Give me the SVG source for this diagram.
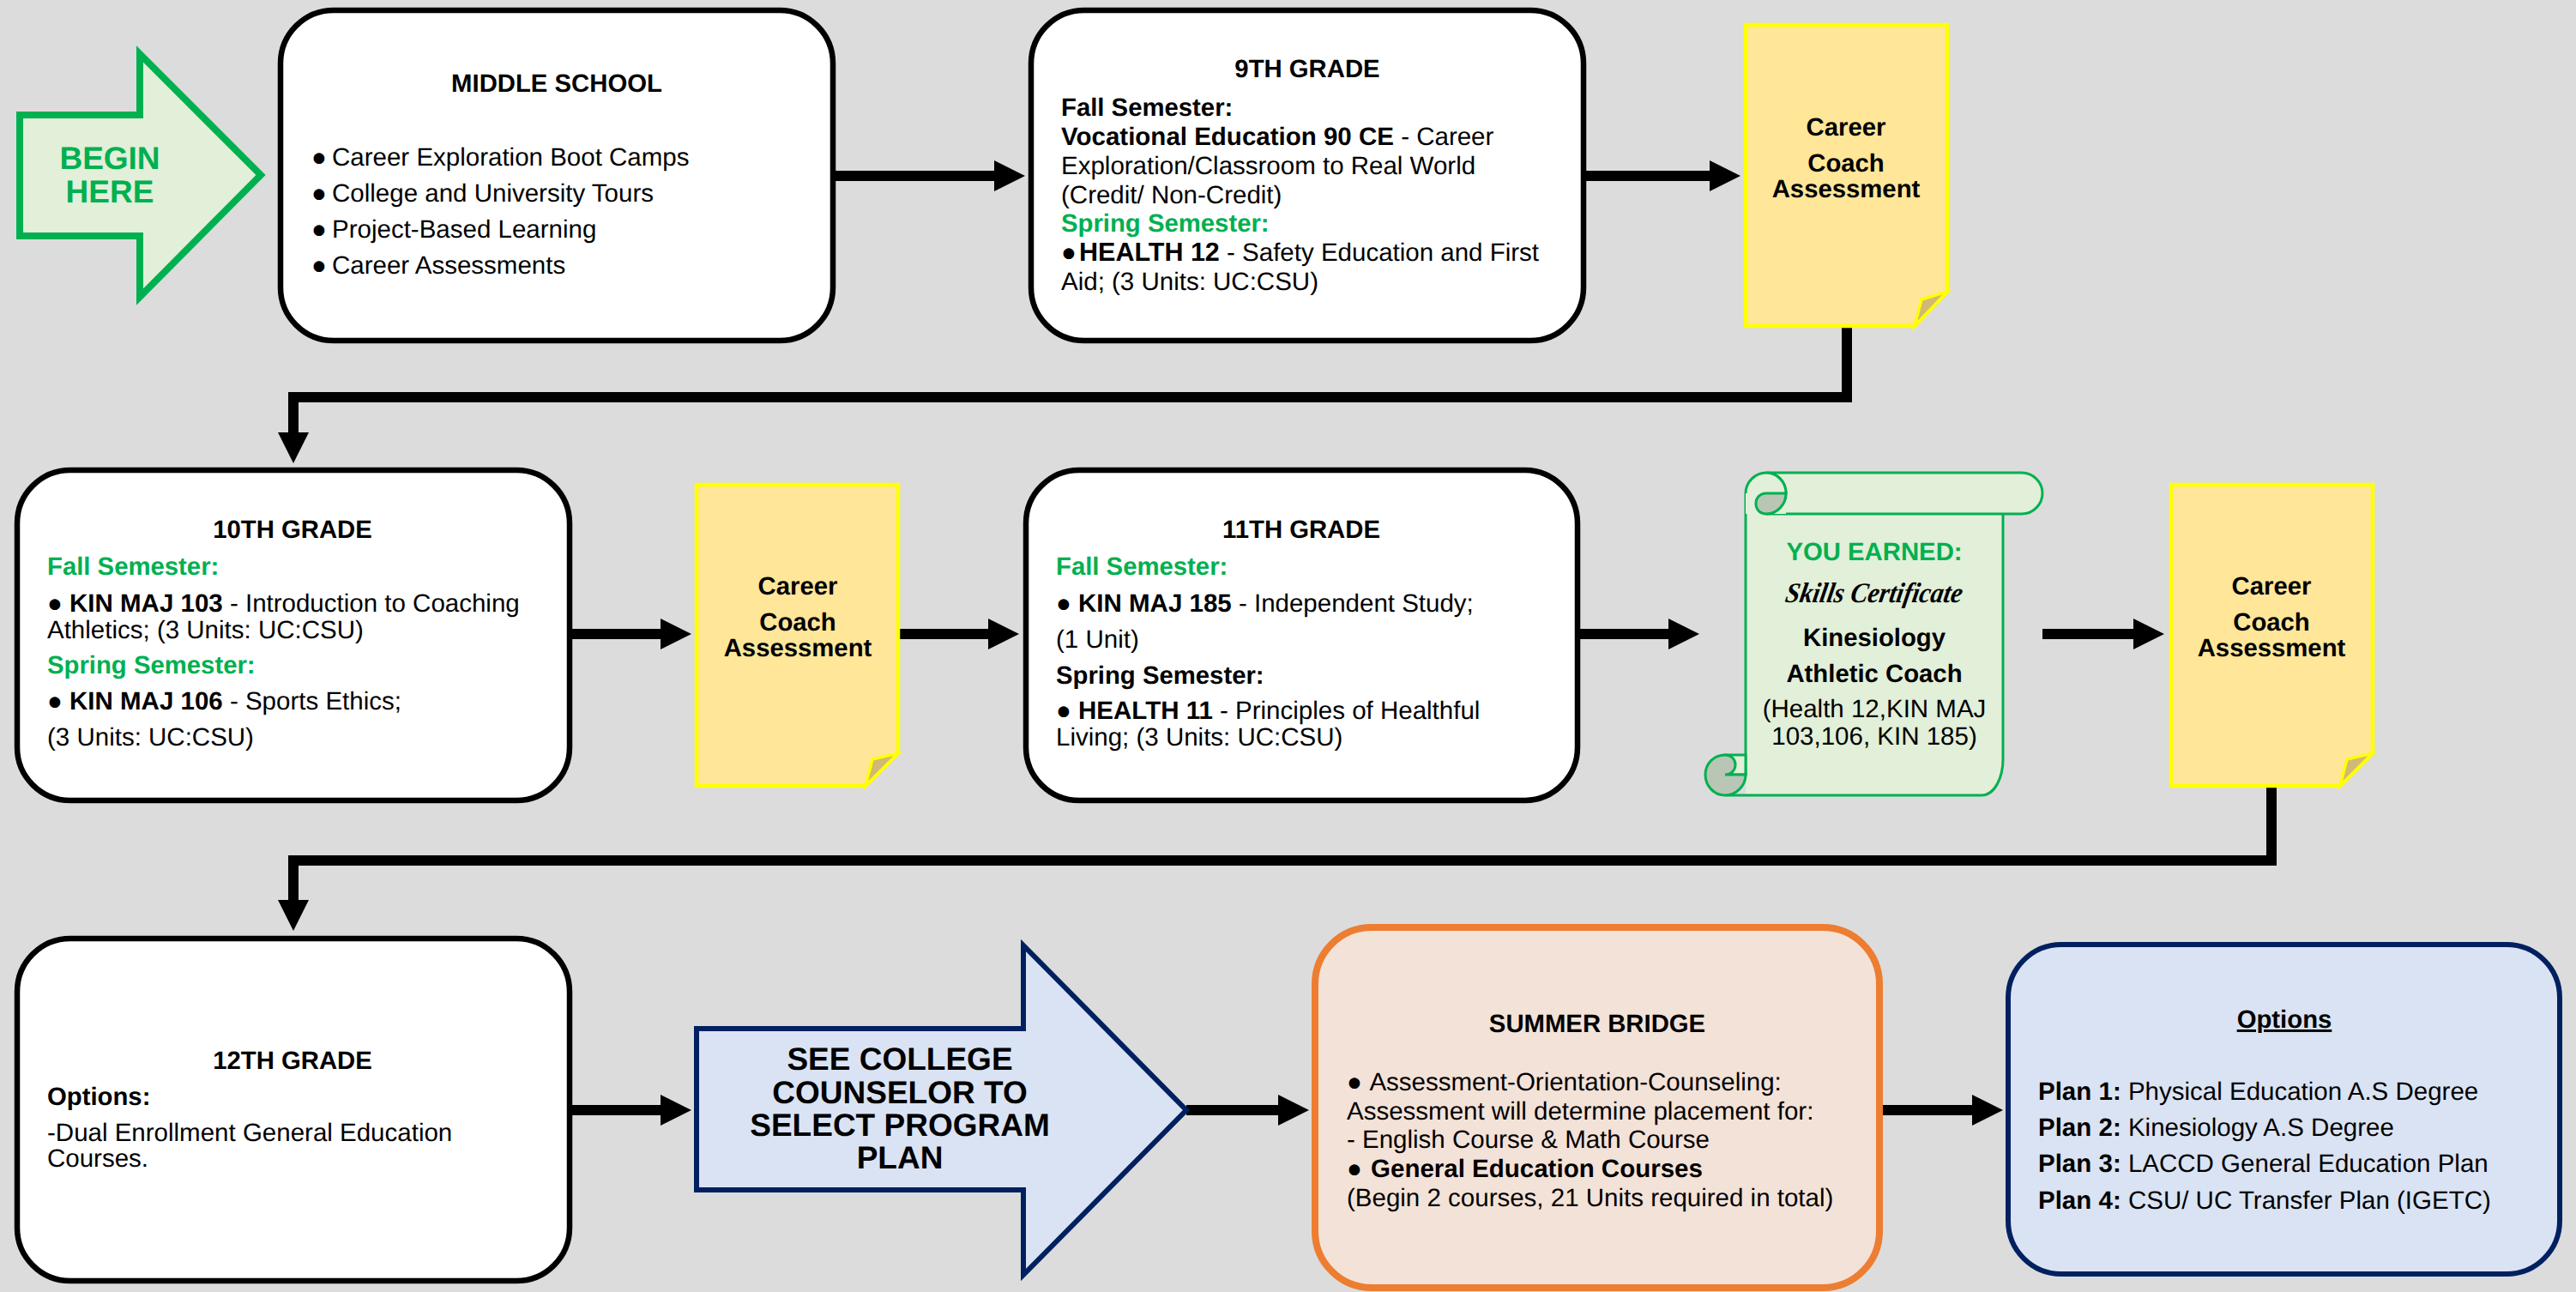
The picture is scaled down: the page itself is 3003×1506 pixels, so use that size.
<svg xmlns="http://www.w3.org/2000/svg" width="3003" height="1506" viewBox="0 0 3003 1506">
<style>
text{font-family:"Liberation Sans",Arial,sans-serif;font-size:29.5px;fill:#000;text-rendering:geometricPrecision}
.b,tspan.b{font-weight:700}
text.b{font-size:29.3px}
.c{text-anchor:middle}
.g,tspan.g{fill:#00B050}
.box{fill:#fff;stroke:#000;stroke-width:6.5}
.note{fill:#FFE699;stroke:#FFFF00;stroke-width:4.5}
.fold{fill:#CFB974;stroke:#FFFF00;stroke-width:3.5;stroke-linejoin:miter}
text.big{font-size:37px;font-weight:700}
.con{fill:none;stroke:#000;stroke-width:12;marker-end:url(#ah)}
.sc{fill:#E2EFD9;stroke:#00B050;stroke-width:3}
.scf{fill:#E2EFD9}
.scl{fill:none;stroke:#00B050;stroke-width:3}
.scd{fill:#B9C6B6;stroke:#00B050;stroke-width:3}
</style>
<defs>
<marker id="ah" markerUnits="userSpaceOnUse" markerWidth="38" markerHeight="38" refX="1" refY="19" orient="auto"><path d="M0 1L36 19L0 37Z" fill="#000"/></marker>
</defs>
<rect width="3003" height="1506" fill="#DCDCDC"/>
<g id="connectors">
<path class="con" d="M972 205H1160"/>
<path class="con" d="M1848 205H1994"/>
<path class="con" d="M2153 382V463H342V505"/>
<path class="con" d="M664 739H771"/>
<path class="con" d="M1047 739H1153"/>
<path class="con" d="M1840 739H1946"/>
<path class="con" d="M2381 739H2488"/>
<path class="con" d="M2648 917V1003H342V1050"/>
<path class="con" d="M664 1294H771"/>
<path class="con" d="M1383 1294H1491"/>
<path class="con" d="M2195 1294H2300"/>
</g>
<g id="begin">
<path d="M23 134H163V63L304 204L163 346V275H23Z" fill="#E2EFD9" stroke="#00B050" stroke-width="8"/>
<text class="big c g" x="128" y="197">BEGIN</text>
<text class="big c g" x="128" y="236">HERE</text>
</g>
<g id="middle-school">
<rect class="box" x="327" y="12" width="644" height="385" rx="62"/>
<text class="b c" x="649" y="107">MIDDLE SCHOOL</text>
<text x="363" y="193">●<tspan dx="-2"> Career Exploration Boot Camps</tspan></text>
<text x="363" y="235">●<tspan dx="-2"> College and University Tours</tspan></text>
<text x="363" y="277">●<tspan dx="-2"> Project-Based Learning</tspan></text>
<text x="363" y="319">●<tspan dx="-2"> Career Assessments</tspan></text>
</g>
<g id="grade-9">
<rect class="box" x="1202" y="12" width="644" height="385" rx="62"/>
<text class="b c" x="1524" y="90">9TH GRADE</text>
<text class="b" x="1237" y="135">Fall Semester:</text>
<text x="1237" y="169"><tspan class="b">Vocational Education 90 CE</tspan> - Career</text>
<text x="1237" y="203">Exploration/Classroom to Real World</text>
<text x="1237" y="237">(Credit/ Non-Credit)</text>
<text class="b g" x="1237" y="270">Spring Semester:</text>
<text x="1237" y="304">● <tspan class="b" dx="-5" style="font-size:30.5px">HEALTH 12</tspan> - Safety Education and First</text>
<text x="1237" y="338">Aid; (3 Units: UC:CSU)</text>
</g>
<g id="note-1">
<path class="note" d="M2035 29H2270V340L2232 380H2035Z"/>
<path class="fold" d="M2232 380L2240 349L2270 340Z"/>
<text class="b c" x="2152" y="158">Career</text>
<text class="b c" x="2152" y="200">Coach</text>
<text class="b c" x="2152" y="230">Assessment</text>
</g>
<g id="grade-10">
<rect class="box" x="20" y="548" width="644" height="385" rx="62"/>
<text class="b c" x="341" y="627">10TH GRADE</text>
<text class="b g" x="55" y="670">Fall Semester:</text>
<text x="55" y="713">● <tspan class="b">KIN MAJ 103</tspan> - Introduction to Coaching</text>
<text x="55" y="744">Athletics; (3 Units: UC:CSU)</text>
<text class="b g" x="55" y="785">Spring Semester:</text>
<text x="55" y="827">● <tspan class="b">KIN MAJ 106</tspan> - Sports Ethics;</text>
<text x="55" y="869">(3 Units: UC:CSU)</text>
</g>
<g id="note-2">
<path class="note" d="M812 565H1047V878L1009 916H812Z"/>
<path class="fold" d="M1009 916L1017 885L1047 878Z"/>
<text class="b c" x="930" y="693">Career</text>
<text class="b c" x="930" y="735">Coach</text>
<text class="b c" x="930" y="765">Assessment</text>
</g>
<g id="grade-11">
<rect class="box" x="1196" y="548" width="643" height="385" rx="62"/>
<text class="b c" x="1517" y="627">11TH GRADE</text>
<text class="b g" x="1231" y="670">Fall Semester:</text>
<text x="1231" y="713">● <tspan class="b">KIN MAJ 185</tspan> - Independent Study;</text>
<text x="1231" y="755">(1 Unit)</text>
<text class="b" x="1231" y="797">Spring Semester:</text>
<text x="1231" y="838">● <tspan class="b">HEALTH 11</tspan> - Principles of Healthful</text>
<text x="1231" y="869">Living; (3 Units: UC:CSU)</text>
</g>
<g id="certificate">
<path class="scf" d="M2035 575V927H2310C2326 927 2335 905 2335 885V590H2082V575Z"/>
<path class="scl" d="M2035 575V903M2012 927H2310C2326 927 2335 905 2335 885V599"/>
<path class="sc" d="M2059 551H2357C2370 551 2381 562 2381 575C2381 588 2370 599 2357 599H2059C2072 599 2082 588 2082 575C2082 562 2072 551 2059 551Z"/>
<path class="scf" d="M2035 575C2035 562 2046 551 2059 551C2072 551 2082 562 2082 575V599H2035Z"/>
<path class="scd" d="M2082 575H2059C2052 575 2047 580 2047 587C2047 594 2052 599 2059 599C2072 599 2082 588 2082 575Z"/>
<path class="scl" d="M2035 575C2035 562 2046 551 2059 551C2072 551 2082 562 2082 575"/>
<path class="sc" d="M2011 880H2035V903H2011Z"/>
<path class="scd" d="M2011 880C1998 880 1988 890 1988 903C1988 916 1998 927 2011 927C2024 927 2035 916 2035 903H2011C2018 903 2023 898 2023 891C2023 885 2018 880 2011 880Z"/>
<text class="b c g" x="2185" y="653">YOU EARNED:</text>
<text class="c" transform="translate(2183 702) skewX(-10)" style="font-family:'Liberation Serif',serif;font-style:italic;font-weight:700;font-size:33px" textLength="206" lengthAdjust="spacingAndGlyphs">Skills Certificate</text>
<text class="b c" x="2185" y="753">Kinesiology</text>
<text class="b c" x="2185" y="795">Athletic Coach</text>
<text class="c" x="2185" y="836">(Health 12,KIN MAJ</text>
<text class="c" x="2185" y="868">103,106, KIN 185)</text>
</g>
<g id="note-3">
<path class="note" d="M2531 565H2766V878L2728 916H2531Z"/>
<path class="fold" d="M2728 916L2736 885L2766 878Z"/>
<text class="b c" x="2648" y="693">Career</text>
<text class="b c" x="2648" y="735">Coach</text>
<text class="b c" x="2648" y="765">Assessment</text>
</g>
<g id="grade-12">
<rect class="box" x="20" y="1094" width="644" height="399" rx="62"/>
<text class="b c" x="341" y="1246">12TH GRADE</text>
<text class="b" x="55" y="1288">Options:</text>
<text x="55" y="1330">-Dual Enrollment General Education</text>
<text x="55" y="1360">Courses.</text>
</g>
<g id="counselor">
<path d="M812 1199H1193V1102L1383 1294L1193 1486V1387H812Z" fill="#DAE3F3" stroke="#002060" stroke-width="6"/>
<text class="big c" x="1049" y="1247">SEE COLLEGE</text>
<text class="big c" x="1049" y="1286">COUNSELOR TO</text>
<text class="big c" x="1049" y="1324">SELECT PROGRAM</text>
<text class="big c" x="1049" y="1362">PLAN</text>
</g>
<g id="summer-bridge">
<rect x="1533" y="1081" width="658" height="420" rx="66" fill="#F3E2D8" stroke="#ED7D31" stroke-width="8"/>
<text class="b c" x="1862" y="1203">SUMMER BRIDGE</text>
<text x="1570" y="1271">●<tspan dx="2"> Assessment-Orientation-Counseling:</tspan></text>
<text x="1570" y="1305">Assessment will determine placement for:</text>
<text x="1570" y="1338">- English Course &amp; Math Course</text>
<text x="1570" y="1372"><tspan class="b">●<tspan dx="2"> General Education Courses</tspan></tspan></text>
<text x="1570" y="1406">(Begin 2 courses, 21 Units required in total)</text>
</g>
<g id="options">
<rect x="2341" y="1101" width="643" height="384" rx="62" fill="#DAE3F3" stroke="#002060" stroke-width="6"/>
<text class="b c" x="2663" y="1198" text-decoration="underline">Options</text>
<text x="2376" y="1282"><tspan class="b">Plan 1:</tspan> Physical Education A.S Degree</text>
<text x="2376" y="1324"><tspan class="b">Plan 2:</tspan> Kinesiology A.S Degree</text>
<text x="2376" y="1366"><tspan class="b">Plan 3:</tspan> LACCD General Education Plan</text>
<text x="2376" y="1409"><tspan class="b">Plan 4:</tspan> CSU/ UC Transfer Plan (IGETC)</text>
</g>
</svg>
